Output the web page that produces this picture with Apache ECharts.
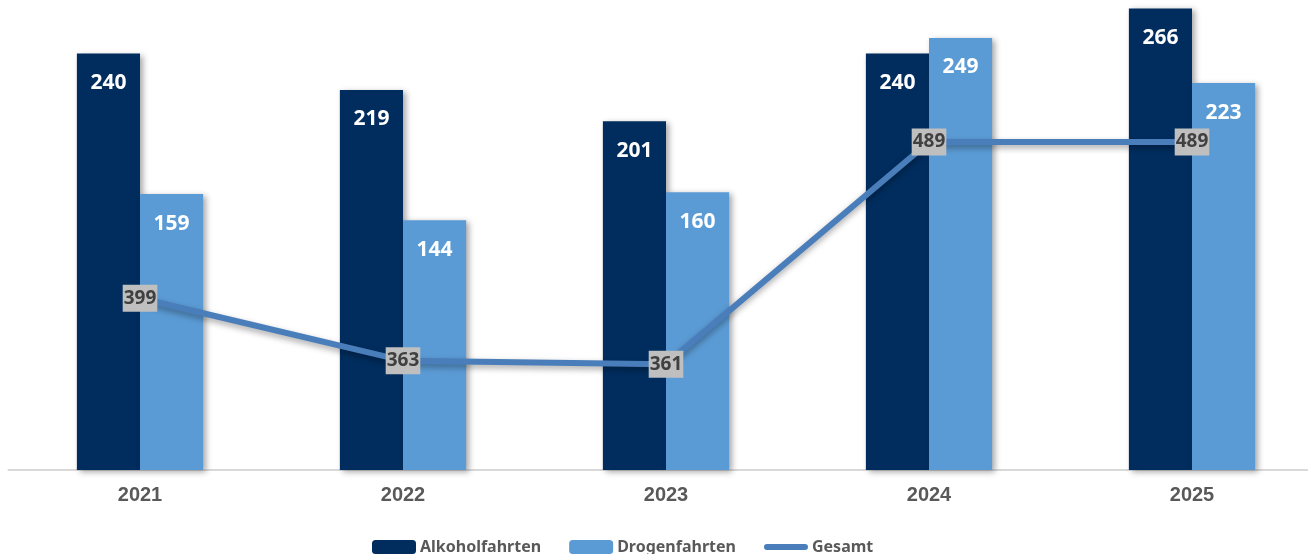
<!DOCTYPE html>
<html>
<head>
<meta charset="utf-8">
<script src="https://cdn.jsdelivr.net/npm/echarts@6/dist/echarts.min.js"></script>
<style>
html,body{margin:0;padding:0;background:#fff;}
#chart{width:1308px;height:554px;}
</style>
</head>
<body>
<div id="chart"></div>
<script>
const categories = ['2021', '2022', '2023', '2024', '2025'];
const alkoholfahrten = [240, 219, 201, 240, 266];
const drogenfahrten = [159, 144, 160, 249, 223];
const gesamt = [399, 363, 361, 489, 489];

const chart = echarts.init(document.getElementById('chart'));
const barShadow = {shadowColor: 'rgba(0,0,0,0.35)', shadowBlur: 6, shadowOffsetX: 3, shadowOffsetY: 2};
const barLabel = {
  show: true, position: 'insideTop', distance: 19, color: '#ffffff',
  fontFamily: 'Noto Sans', fontWeight: 'bold', fontSize: 21
};
const lineIcon = 'path://M0,0 L0.01,0 Z M0,14 L0.01,14 Z M3,4 L41,4 A3,3 0 0 1 41,10 L3,10 A3,3 0 0 1 3,4 Z';
chart.setOption({
  animation: false,
  backgroundColor: '#ffffff',
  grid: {left: 8.5, top: 1.5, right: -15.5, bottom: 84, containLabel: false, outerBoundsMode: 'none'},
  xAxis: {
    type: 'category', data: categories,
    axisLine: {lineStyle: {color: '#d9d9d9', width: 2}},
    axisTick: {show: false},
    axisLabel: {color: '#595959', fontFamily: 'Liberation Sans', fontWeight: 'bold', fontSize: 20, margin: 15}
  },
  yAxis: [
    {type: 'value', min: 0, max: 270, show: false, splitLine: {show: false}},
    {type: 'value', min: 300, max: 570, show: false, splitLine: {show: false}}
  ],
  legend: {
    top: 539, left: 372, padding: 0, itemWidth: 44, itemHeight: 14, itemGap: 28,
    textStyle: {color: '#595959', fontFamily: 'Noto Sans', fontWeight: 'bold', fontSize: 16, padding: [0, 0, 0, -1]},
    data: ['Alkoholfahrten', 'Drogenfahrten', {name: 'Gesamt', icon: lineIcon}]
  },
  series: [
    {
      name: 'Alkoholfahrten', type: 'bar', data: alkoholfahrten,
      barWidth: '24%', barGap: '0%',
      itemStyle: Object.assign({color: '#002d5e'}, barShadow),
      label: barLabel
    },
    {
      name: 'Drogenfahrten', type: 'bar', data: drogenfahrten,
      barWidth: '24%', barGap: '0%',
      itemStyle: Object.assign({color: '#5b9bd5'}, barShadow),
      label: barLabel
    },
    {
      name: 'Gesamt', type: 'line', yAxisIndex: 1, data: gesamt, z: 5,
      symbol: 'circle', symbolSize: 1, showSymbol: true,
      itemStyle: {color: '#4a7eba'},
      lineStyle: {color: '#4a7eba', width: 6, shadowColor: 'rgba(0,0,0,0.35)', shadowBlur: 6, shadowOffsetY: 3},
      label: {
        show: true, position: 'inside', color: '#404040', backgroundColor: '#bfbfbf',
        fontFamily: 'Noto Sans', fontWeight: 'bold', fontSize: 19, padding: [5, 1, 3, 1]
      }
    }
  ]
});
</script>
</body>
</html>
